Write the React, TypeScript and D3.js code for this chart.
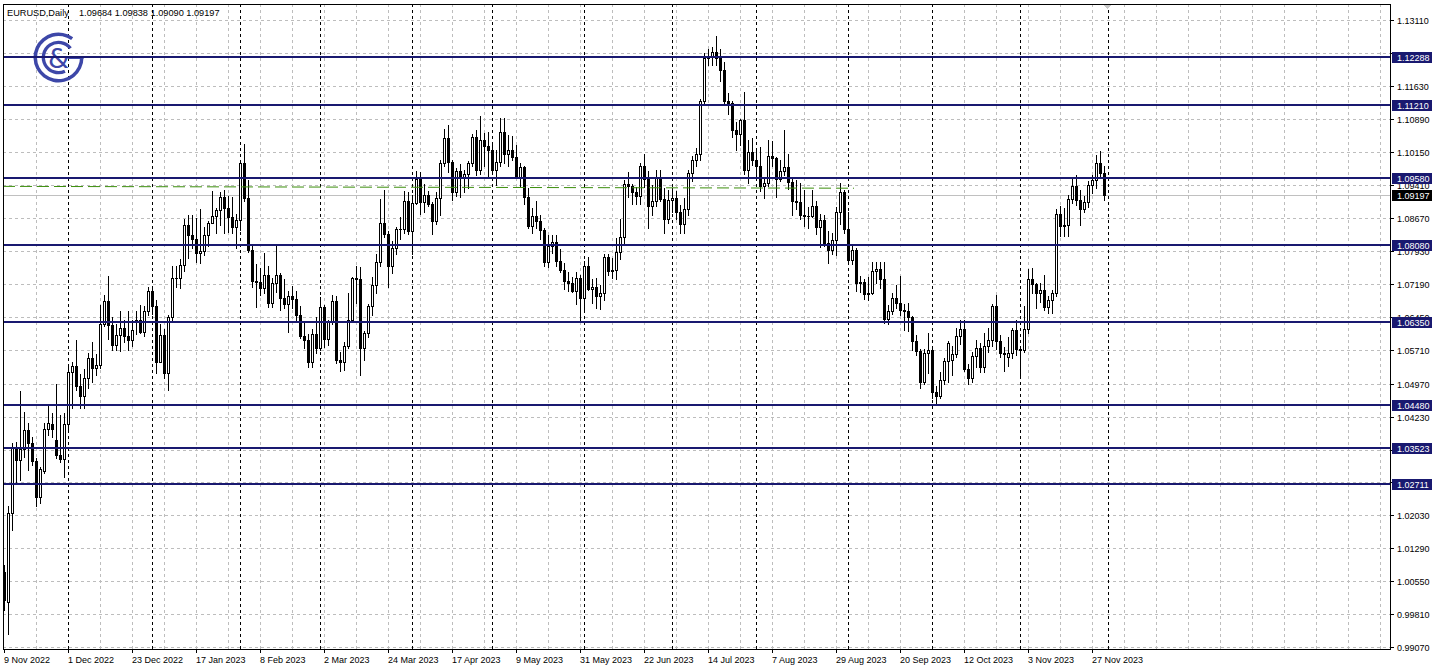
import React, { useEffect } from "react";
import * as d3 from "d3";

// ---------- data ----------
const symbol = "EURUSD";
const timeframe = "Daily";
const startDate = "2022-11-09";
const holidays = ["2022-12-26"];
const monthNames = ["Jan", "Feb", "Mar", "Apr", "May", "Jun", "Jul", "Aug", "Sep", "Oct", "Nov", "Dec"];

const open = [
  1.0074, 1.0008, 1.0207, 1.0350, 1.0325, 1.0350, 1.0392, 1.0363, 1.0323, 1.0243,
  1.0301, 1.0396, 1.0406, 1.0370, 1.0338, 1.0327, 1.0406, 1.0522, 1.0537, 1.0492,
  1.0468, 1.0509, 1.0555, 1.0532, 1.0539, 1.0631, 1.0682, 1.0627, 1.0584, 1.0606,
  1.0621, 1.0603, 1.0595, 1.0637, 1.0640, 1.0612, 1.0660, 1.0705, 1.0670, 1.0546,
  1.0606, 1.0521, 1.0645, 1.0733, 1.0734, 1.0762, 1.0851, 1.0829, 1.0820, 1.0789,
  1.0794, 1.0830, 1.0857, 1.0871, 1.0885, 1.0915, 1.0890, 1.0869, 1.0847, 1.0863,
  1.0990, 1.0913, 1.0797, 1.0727, 1.0725, 1.0711, 1.0739, 1.0678, 1.0722, 1.0739,
  1.0688, 1.0675, 1.0694, 1.0687, 1.0650, 1.0603, 1.0595, 1.0546, 1.0608, 1.0576,
  1.0669, 1.0596, 1.0634, 1.0682, 1.0549, 1.0546, 1.0580, 1.0640, 1.0733, 1.0730,
  1.0577, 1.0610, 1.0670, 1.0718, 1.0770, 1.0856, 1.0832, 1.0760, 1.0800, 1.0844,
  1.0843, 1.0905, 1.0839, 1.0902, 1.0955, 1.0904, 1.0920, 1.0900, 1.0860, 1.0913,
  1.0990, 1.1046, 1.0992, 1.0926, 1.0973, 1.0958, 1.0966, 1.0991, 1.1049, 1.0975,
  1.1043, 1.1029, 1.1019, 1.0976, 1.0993, 1.1060, 1.1010, 1.1019, 1.1004, 1.0960,
  1.0981, 1.0915, 1.0849, 1.0873, 1.0862, 1.0840, 1.0770, 1.0805, 1.0813, 1.0771,
  1.0751, 1.0726, 1.0723, 1.0705, 1.0734, 1.0689, 1.0761, 1.0708, 1.0712, 1.0692,
  1.0699, 1.0781, 1.0748, 1.0751, 1.0792, 1.0824, 1.0944, 1.0939, 1.0925, 1.0917,
  1.0985, 1.0956, 1.0894, 1.0905, 1.0960, 1.0911, 1.0866, 1.0909, 1.0913, 1.0882,
  1.0854, 1.0888, 1.0968, 1.0998, 1.1010, 1.1129, 1.1225, 1.1229, 1.1239, 1.1227,
  1.1200, 1.1129, 1.1124, 1.1064, 1.1056, 1.1086, 1.0976, 1.1016, 1.0997, 1.0985,
  1.0939, 1.0946, 1.1006, 1.1003, 1.0956, 1.0973, 1.0981, 1.0948, 1.0906, 1.0904,
  1.0874, 1.0871, 1.0872, 1.0894, 1.0847, 1.0863, 1.0811, 1.0796, 1.0818, 1.0880,
  1.0926, 1.0842, 1.0773, 1.0795, 1.0722, 1.0725, 1.0698, 1.0699, 1.0750, 1.0753,
  1.0732, 1.0642, 1.0659, 1.0689, 1.0678, 1.0661, 1.0659, 1.0645, 1.0592, 1.0570,
  1.0501, 1.0566, 1.0573, 1.0478, 1.0469, 1.0505, 1.0548, 1.0549, 1.0563, 1.0604,
  1.0620, 1.0530, 1.0509, 1.0558, 1.0576, 1.0535, 1.0581, 1.0595, 1.0670, 1.0592,
  1.0566, 1.0557, 1.0566, 1.0617, 1.0574, 1.0571, 1.0620, 1.0730, 1.0719, 1.0700,
  1.0707, 1.0669, 1.0684, 1.0700, 1.0877, 1.0849, 1.0852, 1.0911, 1.0939, 1.0909,
  1.0888, 1.0904, 1.0941, 1.0952, 1.0990, 1.09684,
];
const high = [
  1.0090, 1.0222, 1.0364, 1.0365, 1.0481, 1.0433, 1.0408, 1.0378, 1.0330, 1.0311,
  1.0409, 1.0449, 1.0431, 1.0497, 1.0427, 1.0430, 1.0533, 1.0545, 1.0595, 1.0519,
  1.0530, 1.0566, 1.0590, 1.0562, 1.0673, 1.0695, 1.0737, 1.0647, 1.0630, 1.0659,
  1.0640, 1.0660, 1.0640, 1.0660, 1.0673, 1.0670, 1.0713, 1.0713, 1.0683, 1.0630,
  1.0619, 1.0650, 1.0760, 1.0760, 1.0776, 1.0865, 1.0874, 1.0874, 1.0867, 1.0887,
  1.0848, 1.0860, 1.0927, 1.0890, 1.0925, 1.0930, 1.0916, 1.0915, 1.0877, 1.0993,
  1.1033, 1.0953, 1.0805, 1.0765, 1.0755, 1.0790, 1.0760, 1.0733, 1.0805, 1.0745,
  1.0730, 1.0705, 1.0715, 1.0705, 1.0670, 1.0635, 1.0608, 1.0620, 1.0645, 1.0691,
  1.0673, 1.0640, 1.0695, 1.0694, 1.0568, 1.0590, 1.0700, 1.0736, 1.0760, 1.0759,
  1.0615, 1.0676, 1.0735, 1.0788, 1.0911, 1.0930, 1.0838, 1.0817, 1.0848, 1.0870,
  1.0927, 1.0925, 1.0918, 1.0973, 1.0970, 1.0943, 1.0928, 1.0903, 1.0926, 1.0998,
  1.1068, 1.1075, 1.0998, 1.0980, 1.0988, 1.0976, 1.0995, 1.1055, 1.1065, 1.1095,
  1.1059, 1.1060, 1.1032, 1.1020, 1.1092, 1.1091, 1.1054, 1.1052, 1.1030, 1.0990,
  1.0985, 1.0935, 1.0890, 1.0905, 1.0875, 1.0845, 1.0830, 1.0830, 1.0830, 1.0799,
  1.0767, 1.0746, 1.0736, 1.0746, 1.0740, 1.0771, 1.0780, 1.0731, 1.0733, 1.0717,
  1.0786, 1.0786, 1.0779, 1.0823, 1.0865, 1.0952, 1.0970, 1.0944, 1.0936, 1.0990,
  1.1012, 1.0972, 1.0942, 1.0976, 1.0976, 1.0935, 1.0930, 1.0935, 1.0927, 1.0896,
  1.0912, 1.0976, 1.1006, 1.1025, 1.1134, 1.1236, 1.1245, 1.1250, 1.1276, 1.1246,
  1.1218, 1.1147, 1.1130, 1.1082, 1.1090, 1.1149, 1.1043, 1.1046, 1.1020, 1.1026,
  1.0960, 1.1042, 1.1040, 1.1005, 1.0997, 1.1064, 1.1010, 1.0960, 1.0953, 1.0947,
  1.0930, 1.0893, 1.0930, 1.0905, 1.0876, 1.0875, 1.0838, 1.0834, 1.0893, 1.0945,
  1.0930, 1.0882, 1.0809, 1.0800, 1.0737, 1.0730, 1.0735, 1.0768, 1.0768, 1.0770,
  1.0768, 1.0673, 1.0700, 1.0718, 1.0737, 1.0676, 1.0677, 1.0649, 1.0606, 1.0575,
  1.0574, 1.0609, 1.0581, 1.0491, 1.0522, 1.0553, 1.0592, 1.0580, 1.0622, 1.0640,
  1.0640, 1.0541, 1.0567, 1.0595, 1.0588, 1.0610, 1.0622, 1.0676, 1.0695, 1.0606,
  1.0579, 1.0602, 1.0622, 1.0640, 1.0580, 1.0670, 1.0754, 1.0756, 1.0723, 1.0723,
  1.0740, 1.0693, 1.0706, 1.0887, 1.0895, 1.0890, 1.0918, 1.0955, 1.0965, 1.0930,
  1.0916, 1.0950, 1.0965, 1.1009, 1.1017, 1.09838,
];
const low = [
  0.9990, 0.9935, 1.0170, 1.0272, 1.0281, 1.0332, 1.0303, 1.0314, 1.0222, 1.0230,
  1.0297, 1.0381, 1.0377, 1.0330, 1.0321, 1.0288, 1.0394, 1.0443, 1.0483, 1.0443,
  1.0443, 1.0487, 1.0500, 1.0516, 1.0531, 1.0626, 1.0597, 1.0573, 1.0573, 1.0570,
  1.0590, 1.0573, 1.0581, 1.0608, 1.0610, 1.0604, 1.0650, 1.0653, 1.0520, 1.0545,
  1.0510, 1.0483, 1.0640, 1.0712, 1.0710, 1.0749, 1.0778, 1.0801, 1.0769, 1.0766,
  1.0784, 1.0804, 1.0856, 1.0835, 1.0851, 1.0835, 1.0836, 1.0835, 1.0800, 1.0840,
  1.0905, 1.0792, 1.0712, 1.0668, 1.0695, 1.0700, 1.0668, 1.0668, 1.0703, 1.0662,
  1.0665, 1.0613, 1.0665, 1.0634, 1.0600, 1.0577, 1.0534, 1.0533, 1.0566, 1.0573,
  1.0578, 1.0584, 1.0630, 1.0542, 1.0524, 1.0528, 1.0576, 1.0635, 1.0678, 1.0516,
  1.0550, 1.0602, 1.0650, 1.0700, 1.0760, 1.0825, 1.0713, 1.0745, 1.0787, 1.0820,
  1.0835, 1.0831, 1.0788, 1.0900, 1.0877, 1.0881, 1.0895, 1.0831, 1.0855, 1.0875,
  1.0985, 1.0970, 1.0909, 1.0916, 1.0914, 1.0925, 1.0934, 1.0983, 1.0965, 1.0966,
  1.0983, 1.0960, 1.0967, 1.0942, 1.0983, 1.0990, 1.0983, 1.0998, 1.0957, 1.0940,
  1.0900, 1.0845, 1.0835, 1.0845, 1.0820, 1.0760, 1.0759, 1.0790, 1.0760, 1.0747,
  1.0708, 1.0705, 1.0702, 1.0675, 1.0635, 1.0662, 1.0706, 1.0677, 1.0667, 1.0664,
  1.0684, 1.0740, 1.0733, 1.0732, 1.0775, 1.0810, 1.0915, 1.0900, 1.0898, 1.0898,
  1.0938, 1.0845, 1.0875, 1.0895, 1.0905, 1.0834, 1.0857, 1.0880, 1.0866, 1.0833,
  1.0834, 1.0875, 1.0950, 1.0985, 1.0997, 1.1120, 1.1210, 1.1211, 1.1210, 1.1175,
  1.1120, 1.1100, 1.1050, 1.1020, 1.1030, 1.0966, 1.0946, 1.0986, 1.0960, 1.0929,
  1.0912, 1.0940, 1.0985, 1.0915, 1.0950, 1.0965, 1.0933, 1.0874, 1.0888, 1.0865,
  1.0850, 1.0846, 1.0870, 1.0832, 1.0802, 1.0805, 1.0766, 1.0786, 1.0784, 1.0855,
  1.0835, 1.0770, 1.0765, 1.0705, 1.0703, 1.0686, 1.0685, 1.0697, 1.0722, 1.0710,
  1.0632, 1.0631, 1.0653, 1.0666, 1.0651, 1.0617, 1.0615, 1.0573, 1.0561, 1.0488,
  1.0496, 1.0520, 1.0465, 1.0448, 1.0465, 1.0496, 1.0500, 1.0516, 1.0556, 1.0586,
  1.0525, 1.0495, 1.0500, 1.0533, 1.0522, 1.0523, 1.0567, 1.0580, 1.0575, 1.0556,
  1.0524, 1.0536, 1.0553, 1.0560, 1.0516, 1.0567, 1.0610, 1.0700, 1.0666, 1.0680,
  1.0661, 1.0655, 1.0655, 1.0694, 1.0828, 1.0828, 1.0828, 1.0902, 1.0896, 1.0852,
  1.0882, 1.0893, 1.0924, 1.0935, 1.0960, 1.09090,
];
const close = [
  1.0012, 1.0207, 1.0354, 1.0325, 1.0350, 1.0394, 1.0363, 1.0323, 1.0243, 1.0305,
  1.0396, 1.0408, 1.0395, 1.0337, 1.0327, 1.0406, 1.0522, 1.0537, 1.0492, 1.0468,
  1.0509, 1.0555, 1.0532, 1.0539, 1.0630, 1.0681, 1.0628, 1.0584, 1.0606, 1.0621,
  1.0603, 1.0595, 1.0617, 1.0640, 1.0612, 1.0660, 1.0705, 1.0670, 1.0546, 1.0606,
  1.0521, 1.0645, 1.0733, 1.0734, 1.0762, 1.0851, 1.0829, 1.0820, 1.0789, 1.0794,
  1.0830, 1.0857, 1.0871, 1.0885, 1.0915, 1.0890, 1.0869, 1.0847, 1.0863, 1.0990,
  1.0913, 1.0797, 1.0727, 1.0725, 1.0711, 1.0739, 1.0678, 1.0722, 1.0739, 1.0688,
  1.0675, 1.0694, 1.0687, 1.0650, 1.0603, 1.0595, 1.0546, 1.0608, 1.0576, 1.0669,
  1.0596, 1.0634, 1.0682, 1.0549, 1.0546, 1.0580, 1.0640, 1.0733, 1.0730, 1.0577,
  1.0610, 1.0670, 1.0718, 1.0770, 1.0856, 1.0832, 1.0760, 1.0800, 1.0844, 1.0843,
  1.0905, 1.0839, 1.0902, 1.0955, 1.0904, 1.0920, 1.0900, 1.0860, 1.0913, 1.0990,
  1.1046, 1.0992, 1.0926, 1.0973, 1.0958, 1.0966, 1.0991, 1.1049, 1.0975, 1.1043,
  1.1029, 1.1019, 1.0976, 1.0993, 1.1060, 1.1010, 1.1019, 1.1004, 1.0960, 1.0981,
  1.0915, 1.0849, 1.0873, 1.0862, 1.0840, 1.0770, 1.0805, 1.0813, 1.0771, 1.0751,
  1.0726, 1.0723, 1.0705, 1.0734, 1.0689, 1.0761, 1.0708, 1.0712, 1.0692, 1.0699,
  1.0781, 1.0748, 1.0751, 1.0792, 1.0824, 1.0944, 1.0939, 1.0925, 1.0917, 1.0985,
  1.0956, 1.0894, 1.0905, 1.0960, 1.0911, 1.0866, 1.0909, 1.0913, 1.0882, 1.0854,
  1.0888, 1.0968, 1.0998, 1.1010, 1.1129, 1.1225, 1.1229, 1.1239, 1.1227, 1.1200,
  1.1129, 1.1124, 1.1064, 1.1056, 1.1086, 1.0976, 1.1016, 1.0997, 1.0985, 1.0939,
  1.0946, 1.1006, 1.1003, 1.0956, 1.0973, 1.0981, 1.0948, 1.0906, 1.0904, 1.0874,
  1.0871, 1.0872, 1.0894, 1.0847, 1.0863, 1.0811, 1.0796, 1.0818, 1.0880, 1.0926,
  1.0842, 1.0773, 1.0795, 1.0722, 1.0725, 1.0698, 1.0699, 1.0750, 1.0753, 1.0732,
  1.0642, 1.0659, 1.0689, 1.0678, 1.0661, 1.0659, 1.0645, 1.0592, 1.0570, 1.0501,
  1.0566, 1.0573, 1.0478, 1.0469, 1.0505, 1.0548, 1.0587, 1.0563, 1.0604, 1.0620,
  1.0530, 1.0509, 1.0558, 1.0576, 1.0535, 1.0581, 1.0595, 1.0670, 1.0592, 1.0566,
  1.0564, 1.0566, 1.0617, 1.0574, 1.0571, 1.0620, 1.0730, 1.0719, 1.0700, 1.0707,
  1.0669, 1.0684, 1.0700, 1.0877, 1.0849, 1.0852, 1.0911, 1.0939, 1.0909, 1.0888,
  1.0904, 1.0941, 1.0952, 1.0990, 1.0968, 1.09197,
];

const levelPrices = [1.12288, 1.1121, 1.0958, 1.0808, 1.0635, 1.0448, 1.03523, 1.02711];
// price grid lines (all) and the tick labels that remain visible beside the level boxes
const priceTicks = [
  1.1311, 1.1237, 1.1163, 1.1089, 1.1015, 1.0941, 1.0867, 1.0793, 1.0719, 1.0645,
  1.0571, 1.0497, 1.0423, 1.0349, 1.0276, 1.0203, 1.0129, 1.0055, 0.9981, 0.9907,
];
const priceLabels = [
  1.1311, 1.1163, 1.1089, 1.1015, 1.0941, 1.0867, 1.0793, 1.0719, 1.0645,
  1.0571, 1.0497, 1.0423, 1.0203, 1.0129, 1.0055, 0.9981, 0.9907,
];
const trendBars = [-0.25, 212.5];
const trendPrices = [1.09384, 1.09343];
const bidPrice = 1.09197;
const priceRange = [0.99025, 1.13468];

// ---------- helpers ----------
function tradingDays(start: string, n: number, skip: string[]) {
  const out: Date[] = [];
  const d = new Date(start + "T00:00:00Z");
  while (out.length < n) {
    const wd = d.getUTCDay();
    const iso = d.toISOString().slice(0, 10);
    if (wd !== 0 && wd !== 6 && !skip.includes(iso)) out.push(new Date(d.getTime()));
    d.setUTCDate(d.getUTCDate() + 1);
  }
  return out;
}
const fmtDate = (d: Date) => `${d.getUTCDate()} ${monthNames[d.getUTCMonth()]} ${d.getUTCFullYear()}`;
const fmtPrice = d3.format(".5f");

const W = 1438;
const H = 671;
const L = 3, T = 4, R = 1390, B = 649;
const FONT = "'Liberation Sans', Arial, sans-serif";
const NAVY = "#191970";
const GRID = "#bdbdbd";
const LOGO = "#3d47a8";

export default function App() {
  useEffect(() => {
    document.body.style.margin = "0";
  }, []);

  const N = close.length;
  const dates = tradingDays(startDate, N + 1, holidays);
  const x = d3.scaleLinear().domain([0, N - 1]).range([4, 4 + 4 * (N - 1)]);
  const y = d3.scaleLinear().domain(priceRange).range([B, T]);
  const px = (i: number) => Math.round(x(i));
  const py = (v: number) => Math.round(y(v));

  const vGrid: number[] = [];
  for (let i = 8; x(i) < R; i += 8) vGrid.push(px(i));

  const seps: number[] = [];
  for (let i = 1; i <= N; i++) {
    if (dates[i].getUTCMonth() !== dates[i - 1].getUTCMonth()) seps.push(px(i));
  }

  const dateTicks: { xx: number; label: string }[] = [];
  for (let i = 0; i < N; i += 16) dateTicks.push({ xx: px(i), label: fmtDate(dates[i]) });

  const arc = d3.arc();
  const logoOuter = arc({ innerRadius: 21.5, outerRadius: 25, startAngle: 0.5 * Math.PI, endAngle: 2.2 * Math.PI } as any) || "";
  const logoInner = arc({ innerRadius: 13.5, outerRadius: 16.8, startAngle: 0.86 * Math.PI, endAngle: 2.29 * Math.PI } as any) || "";

  const candles = open.map((o, i) => {
    const c = close[i];
    const cx = px(i);
    const yo = py(o), yc = py(c);
    const yh = py(Math.max(high[i], o, c)), yl = py(Math.min(low[i], o, c));
    const top = Math.min(yo, yc), bot = Math.max(yo, yc);
    const bull = c >= o;
    return (
      <g key={i}>
        <rect x={cx} y={yh} width={1} height={Math.max(1, yl - yh + 1)} fill="#000" />
        {bot - top < 1 ? (
          <rect x={cx - 1} y={top} width={3} height={1} fill="#000" />
        ) : bull ? (
          <g>
            <rect x={cx - 1} y={top} width={3} height={bot - top + 1} fill="#000" />
            {bot - top >= 2 && <rect x={cx} y={top + 1} width={1} height={bot - top - 1} fill="#fff" />}
          </g>
        ) : (
          <rect x={cx - 1} y={top} width={3} height={bot - top + 1} fill="#000" />
        )}
      </g>
    );
  });

  const last = N - 1;
  const titleValues = [open[last], high[last], low[last], close[last]].map(fmtPrice).join(" ");

  return (
    <svg
      width={W}
      height={H}
      style={{ position: "absolute", left: 0, top: 0, display: "block", background: "#fff" }}
      fontFamily={FONT}
    >
      <rect x={0} y={0} width={W} height={H} fill="#fff" />
      <g shapeRendering="crispEdges">
        {priceTicks.map((p, k) => (
          <line key={"hg" + k} x1={L} x2={R} y1={py(p) + 0.5} y2={py(p) + 0.5} stroke={GRID} strokeDasharray="3,3" />
        ))}
        {vGrid.map((gx, k) => (
          <line key={"vg" + k} x1={gx + 0.5} x2={gx + 0.5} y1={T} y2={B} stroke={GRID} strokeDasharray="3,3" />
        ))}
        {seps.map((sx, k) => (
          <line key={"sp" + k} x1={sx + 0.5} x2={sx + 0.5} y1={T} y2={B} stroke="#000" strokeDasharray="3,3" />
        ))}
        <line x1={L} x2={R} y1={py(bidPrice) + 0.5} y2={py(bidPrice) + 0.5} stroke="#c0c0c0" />
      </g>

      <g transform="translate(58.5,57.5)" fill={LOGO}>
        <path d={logoOuter} />
        <path d={logoInner} />
        <rect x={9} y={-1.5} width={16} height={3} />
        <text x={0} y={10} fontSize={27} textAnchor="middle" fontFamily="'DejaVu Sans', sans-serif">&amp;</text>
      </g>

      <g shapeRendering="crispEdges">{candles}</g>

      <g shapeRendering="crispEdges">
        {levelPrices.map((p, k) => (
          <line key={"lv" + k} x1={L} x2={R} y1={y(p)} y2={y(p)} stroke={NAVY} strokeWidth={2} />
        ))}
      </g>
      <line
        x1={x(trendBars[0])}
        x2={x(trendBars[1])}
        y1={y(trendPrices[0])}
        y2={y(trendPrices[1])}
        stroke="#3c8f0c"
        strokeWidth={1}
        strokeDasharray="12,5"
      />

      <g shapeRendering="crispEdges">
        <rect x={L + 0.5} y={T + 0.5} width={R - L} height={B - T} fill="none" stroke="#000" />
        {priceTicks.map((p, k) => (
          <line key={"pk" + k} x1={R} x2={R + 4} y1={py(p) + 0.5} y2={py(p) + 0.5} stroke="#000" />
        ))}
        {priceLabels.map((p, k) => (
          <text key={"pl" + k} x={1397} y={py(p) + 3.5} fontSize={9} fill="#000">
            {fmtPrice(p)}
          </text>
        ))}
        {levelPrices.map((p, k) => (
          <g key={"lb" + k}>
            <rect x={1392} y={py(p) - 5.5} width={40} height={11} fill={NAVY} />
            <text x={1397} y={py(p) + 3.5} fontSize={9} fill="#fff">
              {fmtPrice(p)}
            </text>
          </g>
        ))}
        <rect x={1392} y={py(bidPrice) - 5.5} width={40} height={11} fill="#000" />
        <text x={1397} y={py(bidPrice) + 3.5} fontSize={9} fill="#fff">
          {fmtPrice(bidPrice)}
        </text>
        {dateTicks.map((t, k) => (
          <g key={"dt" + k}>
            <line x1={t.xx + 0.5} x2={t.xx + 0.5} y1={B} y2={B + 4} stroke="#000" />
            <text x={t.xx} y={663} fontSize={9} fill="#000">
              {t.label}
            </text>
          </g>
        ))}
        <path d={`M${px(N) - 5},${T + 1}L${px(N) + 3},${T + 1}L${px(N) - 1},${T + 5}Z`} fill="#c8c8c8" />
      </g>

      <text x={7} y={16} fontSize={9.2} fill="#000">
        {`${symbol},${timeframe}`}
      </text>
      <text x={79} y={16} fontSize={9.2} fill="#000">
        {titleValues}
      </text>
    </svg>
  );
}
